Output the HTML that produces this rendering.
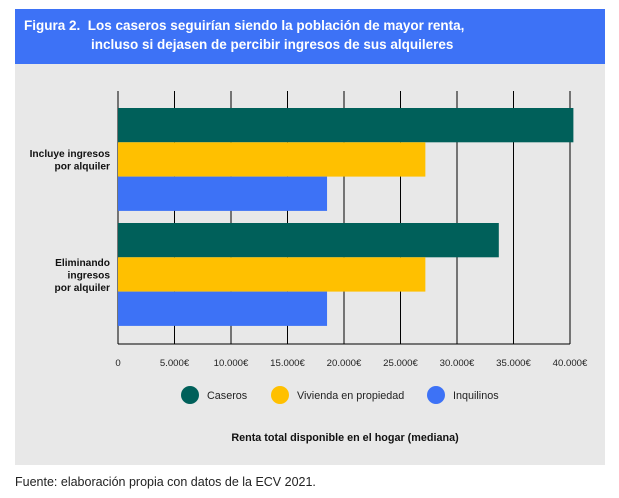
<!DOCTYPE html>
<html><head><meta charset="utf-8"><style>
body{margin:0;width:619px;height:498px;background:#fff;font-family:"Liberation Sans",sans-serif;position:relative;overflow:hidden}
#hdr{position:absolute;left:15px;top:9px;width:590px;height:55px;background:#3d72f6;color:#fff;font-weight:bold;font-size:13.5px;line-height:20px}
#panel{position:absolute;left:15px;top:64px;width:590px;height:401px;background:#e8e8e8}
#foot{position:absolute;left:15px;top:475px;font-size:12.5px;color:#222}
</style></head><body>
<div id="hdr"><div style="position:absolute;left:9px;top:7px">Figura 2.&nbsp; Los caseros seguirían siendo la población de mayor renta,</div><div style="position:absolute;left:76px;top:26px">incluso si dejasen de percibir ingresos de sus alquileres</div></div>
<div id="panel"></div>
<svg id="chart" width="619" height="498" style="position:absolute;left:0;top:0"></svg>
<div id="foot">Fuente: elaboración propia con datos de la ECV 2021.</div>
<script>
const categories=[["Incluye ingresos","por alquiler"],["Eliminando","ingresos","por alquiler"]];
const seriesNames=["Caseros","Vivienda en propiedad","Inquilinos"];
const caseros=[40300,33700];
const vivienda=[27200,27200];
const inquilinos=[18500,18500];
const ticks=[0,5000,10000,15000,20000,25000,30000,35000,40000];
const tickLabels=["0","5.000€","10.000€","15.000€","20.000€","25.000€","30.000€","35.000€","40.000€"];
const colors=["#00605a","#ffc000","#3d72f6"];
const svg=document.getElementById('chart');const NS="http://www.w3.org/2000/svg";
const x=v=>118+v*452/40000;
function mk(t,a,txt){const e=document.createElementNS(NS,t);for(const k in a)e.setAttribute(k,a[k]);if(txt!=null)e.textContent=txt;svg.appendChild(e);return e;}
ticks.forEach((t,i)=>{
 const l=mk('line',{x1:x(t),x2:x(t),y1:91,y2:344,stroke:'#000','stroke-width':1});
 
 
 const tx=mk('text',{x:x(t),y:366,'text-anchor':'middle','font-size':9.6,fill:'#222'},tickLabels[i]);
 
 
});
const base=mk('line',{x1:x(0),x2:x(40000),y1:344,y2:344,stroke:'#000','stroke-width':1});


const series=[caseros,vivienda,inquilinos];
const groupTop=[108,223],bh=34.3;
categories.forEach((c,g)=>{
 series.forEach((s,k)=>{
  const r=mk('rect',{x:x(0),y:groupTop[g]+k*bh,width:x(s[g])-x(0),height:bh,fill:colors[k]});
  
  
 });
 const mid=groupTop[g]+1.5*bh;const n=c.length;
 c.forEach((ln,j)=>{
  const t=mk('text',{x:110,y:mid+(j-(n-1)/2)*12.5+4,'text-anchor':'end','font-size':10.2,'font-weight':'bold',fill:'#111'},ln);
  
  
 });
});
const lx=[190,280,436];
seriesNames.forEach((n,k)=>{
 const c=mk('circle',{cx:lx[k],cy:395,r:9,fill:colors[k]});
 
 
 const t=mk('text',{x:lx[k]+17,y:399,'font-size':10.8,fill:'#222'},n);
 
 
});
const at=mk('text',{x:345,y:441,'text-anchor':'middle','font-size':10.8,'font-weight':'bold',fill:'#111'},"Renta total disponible en el hogar (mediana)");


</script>
</body></html>
